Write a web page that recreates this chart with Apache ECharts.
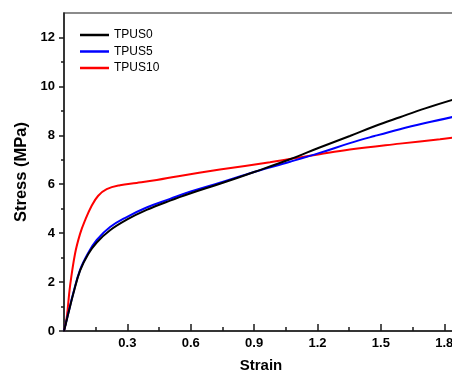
<!DOCTYPE html>
<html>
<head>
<meta charset="utf-8">
<title>Stress-Strain</title>
<script src="https://cdn.jsdelivr.net/npm/echarts@6/dist/echarts.min.js"></script>
<style>
  html, body { margin: 0; padding: 0; background: #fff; }
  #chart { width: 452px; height: 375px; }
</style>
</head>
<body>
<div id="chart"></div>
<script>
// values
const strain0 = [0, 0.01, 0.02, 0.044, 0.076, 0.115, 0.155, 0.218, 0.297, 0.391, 0.502, 0.6, 0.738, 0.9, 1.07, 1.21, 1.353, 1.47, 1.59, 1.71, 1.84];
const stress0 = [0, 0.35, 0.7, 1.52, 2.47, 3.15, 3.62, 4.12, 4.55, 4.95, 5.33, 5.63, 6.02, 6.5, 7.02, 7.5, 7.97, 8.37, 8.74, 9.1, 9.45];

const strain5 = [0, 0.01, 0.02, 0.044, 0.076, 0.115, 0.155, 0.218, 0.297, 0.391, 0.502, 0.6, 0.738, 0.9, 1.07, 1.21, 1.353, 1.47, 1.59, 1.71, 1.84];
const stress5 = [0, 0.36, 0.72, 1.55, 2.5, 3.2, 3.72, 4.25, 4.66, 5.05, 5.4, 5.7, 6.06, 6.5, 6.92, 7.28, 7.68, 7.97, 8.25, 8.5, 8.75];

const strain10 = [0, 0.013, 0.028, 0.052, 0.076, 0.099, 0.131, 0.162, 0.202, 0.265, 0.344, 0.439, 0.541, 0.738, 0.975, 1.21, 1.353, 1.59, 1.78, 1.84];
const stress10 = [0, 0.56, 1.79, 3.15, 3.97, 4.51, 5.12, 5.53, 5.8, 5.96, 6.05, 6.17, 6.33, 6.6, 6.9, 7.23, 7.42, 7.66, 7.84, 7.9];

const xMajorTicks = [0.3, 0.6, 0.9, 1.2, 1.5, 1.8];
const xMinorTicks = [0.15, 0.45, 0.75, 1.05, 1.35, 1.65];
const yMajorTicks = [0, 2, 4, 6, 8, 10, 12];
const yMinorTicks = [1, 3, 5, 7, 9, 11];

const pairs = (xs, ys) => xs.map((x, i) => [x, ys[i]]);

const font = '"Liberation Sans", Arial, sans-serif';
const axisColor = '#1a1a1a';

const chart = echarts.init(document.getElementById('chart'));
chart.setOption({
    animation: false,
    textStyle: { fontFamily: font, color: '#000' },
    grid: {
        left: 64, top: 13, right: -6, bottom: 44,
        outerBoundsMode: 'none',
        show: true,
        borderColor: '#666',
        borderWidth: 1.5
    },
    legend: {
        orient: 'vertical',
        left: 75,
        top: 23,
        icon: 'rect',
        itemWidth: 29,
        itemHeight: 2.5,
        itemGap: 2.5,
        textStyle: { fontFamily: font, fontSize: 12, color: '#000', lineHeight: 14 },
        data: ['TPUS0', 'TPUS5', 'TPUS10']
    },
    xAxis: [{
        type: 'value',
        min: 0,
        max: 1.865,
        position: 'bottom',
        name: 'Strain',
        nameLocation: 'middle',
        nameGap: 27,
        nameTextStyle: { fontFamily: font, fontSize: 15, fontWeight: 'bold', color: '#000' },
        axisLine: { onZero: false, lineStyle: { color: axisColor, width: 1.5 } },
        axisTick: { inside: true, length: 7, lineStyle: { color: axisColor, width: 1.5 }, customValues: xMajorTicks },
        axisLabel: { margin: 6, fontSize: 13, fontWeight: 'bold', color: '#000', customValues: xMajorTicks },
        splitLine: { show: false }
    }, {
        type: 'value',
        min: 0,
        max: 1.865,
        position: 'bottom',
        axisLine: { show: false, onZero: false },
        axisTick: { inside: true, length: 4, lineStyle: { color: axisColor, width: 1.5 }, customValues: xMinorTicks },
        axisLabel: { show: false },
        splitLine: { show: false }
    }],
    yAxis: [{
        type: 'value',
        min: 0,
        max: 13,
        position: 'left',
        name: 'Stress (MPa)',
        nameLocation: 'middle',
        nameGap: 34,
        nameTextStyle: { fontFamily: font, fontSize: 16.5, fontWeight: 'bold', color: '#000' },
        axisLine: { show: true, onZero: false, lineStyle: { color: axisColor, width: 1.5 } },
        axisTick: { show: true, length: 5, lineStyle: { color: axisColor, width: 1.5 }, customValues: yMajorTicks },
        axisLabel: { margin: 9, fontSize: 13, fontWeight: 'bold', color: '#000', customValues: yMajorTicks },
        splitLine: { show: false }
    }, {
        type: 'value',
        min: 0,
        max: 13,
        position: 'left',
        axisLine: { show: false, onZero: false },
        axisTick: { show: true, length: 3, lineStyle: { color: axisColor, width: 1.5 }, customValues: yMinorTicks },
        axisLabel: { show: false },
        splitLine: { show: false }
    }],
    series: [{
        name: 'TPUS10',
        type: 'line',
        data: pairs(strain10, stress10),
        smooth: 0.4,
        symbol: 'none',
        lineStyle: { color: '#ff0000', width: 2 },
        itemStyle: { color: '#ff0000' }
    }, {
        name: 'TPUS5',
        type: 'line',
        data: pairs(strain5, stress5),
        smooth: 0.4,
        symbol: 'none',
        lineStyle: { color: '#0000ff', width: 2 },
        itemStyle: { color: '#0000ff' }
    }, {
        name: 'TPUS0',
        type: 'line',
        data: pairs(strain0, stress0),
        smooth: 0.4,
        symbol: 'none',
        lineStyle: { color: '#000000', width: 2 },
        itemStyle: { color: '#000000' }
    }]
});
</script>
</body>
</html>
